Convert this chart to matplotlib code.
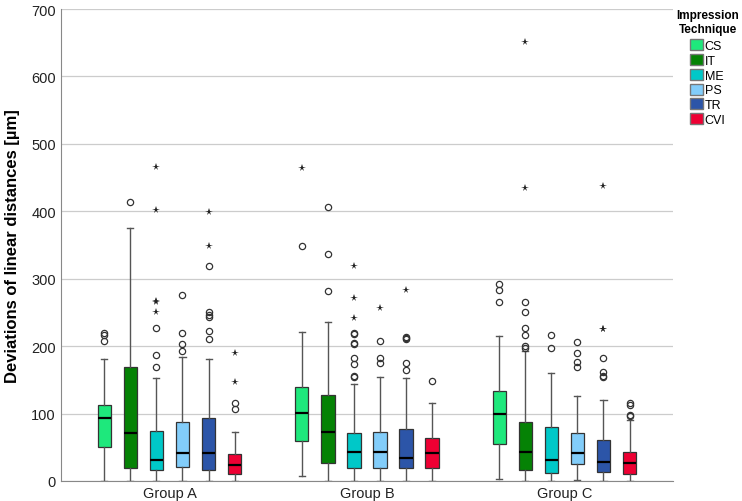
import matplotlib.pyplot as plt
from matplotlib.patches import Patch

plt.rcParams['font.family'] = ['Liberation Sans', 'DejaVu Sans']

groups = ['Group A', 'Group B', 'Group C']
techniques = ['CS', 'IT', 'ME', 'PS', 'TR', 'CVI']
colors = ['#1ee87c', '#058205', '#00c8c8', '#82cdfa', '#2c55a8', '#ee0033']

# per group, per technique (CS, IT, ME, PS, TR, CVI)
whislo = [[0, 0, 0, 0, 0, 0],
          [7, 0, 0, 0, 0, 0],
          [3, 0, 0, 1, 0, 0]]
q1 = [[50, 19, 16, 21, 16, 10],
      [59, 27, 19, 19, 19, 19],
      [55, 16, 12, 25, 13, 10]]
med = [[93, 71, 31, 42, 42, 24],
       [101, 73, 43, 43, 34, 42],
       [99, 43, 31, 42, 28, 27]]
q3 = [[113, 169, 74, 87, 93, 40],
      [140, 127, 71, 73, 77, 64],
      [133, 88, 80, 71, 61, 43]]
whishi = [[181, 375, 153, 184, 181, 72],
          [221, 236, 144, 154, 153, 116],
          [215, 193, 160, 126, 120, 90]]

# outliers (circles)
circles = [[[219, 217, 208], [414], [227, 187, 169], [276, 220, 203, 193],
            [319, 251, 246, 243, 223, 211], [116, 107]],
           [[349], [406, 337, 282], [220, 218, 205, 203, 182, 174, 156, 154],
            [208, 183, 175], [214, 212, 210, 175, 165], [148]],
           [[292, 283, 265], [265, 251, 227, 217, 200, 197], [216, 197],
            [206, 190, 177, 169], [183, 162, 156, 154], [116, 112, 98, 96]]]
# extreme values (stars)
stars = [[[], [], [466, 402, 267, 265, 250], [], [399, 349], [190, 147]],
         [[464], [], [319, 271, 241], [257], [283], []],
         [[], [651, 435], [], [], [438, 226, 225], []]]

fig = plt.figure(figsize=(7.42, 5.02), dpi=100)
ax = fig.add_axes([0.082, 0.040, 0.825, 0.940])

offset = 0.132
width = 0.068
for g in range(len(groups)):
    for t in range(len(techniques)):
        pos = g + (t - 2.5) * offset
        st = dict(med=med[g][t], q1=q1[g][t], q3=q3[g][t],
                  whislo=whislo[g][t], whishi=whishi[g][t], fliers=[])
        ax.bxp([st], positions=[pos], widths=width, patch_artist=True,
               showfliers=False,
               boxprops=dict(facecolor=colors[t], edgecolor='#333333', linewidth=0.9),
               medianprops=dict(color='black', linewidth=1.6),
               whiskerprops=dict(color='#555555', linewidth=1.0),
               capprops=dict(color='#555555', linewidth=1.0),
               capwidths=width * 0.45)
        c = circles[g][t]
        ax.plot([pos] * len(c), c, 'o', mfc='none', mec='#333333', ms=4.5, mew=0.9)
        s = stars[g][t]
        ax.plot([pos] * len(s), s, '*', color='#222222', ms=5.5, mew=0)

ax.set_xlim(-0.55, 2.55)
ax.set_ylim(0, 700)
ax.set_yticks(range(0, 701, 100))
ax.set_xticks(range(len(groups)))
ax.set_xticklabels(groups, fontsize=10.5, color='#222222')
ax.tick_params(axis='both', length=0, labelsize=10.5, labelcolor='#222222')
ax.tick_params(axis='x', pad=4)
ax.yaxis.grid(True, color='#cccccc', linewidth=0.9)
ax.set_axisbelow(True)
for sp in ['top', 'right']:
    ax.spines[sp].set_visible(False)
for sp in ['left', 'bottom']:
    ax.spines[sp].set_color('#888888')
ax.set_ylabel('Deviations of linear distances [µm]', fontsize=12, fontweight='bold',
              labelpad=8)

handles = [Patch(facecolor=colors[i], edgecolor='#777777', label=techniques[i])
           for i in range(len(techniques))]
leg = fig.legend(handles=handles, title='Impression\nTechnique', loc='upper right',
                 bbox_to_anchor=(0.998, 0.982), frameon=False, fontsize=9,
                 title_fontsize=8.5, handlelength=1.0, handleheight=1.0,
                 handletextpad=0.15, labelspacing=0.15, borderpad=0.1,
                 borderaxespad=0, alignment='center')
leg.get_title().set_fontweight('bold')
leg.get_title().set_multialignment('center')
leg._legend_box.sep = 3

fig.savefig('out.png', dpi=100)
